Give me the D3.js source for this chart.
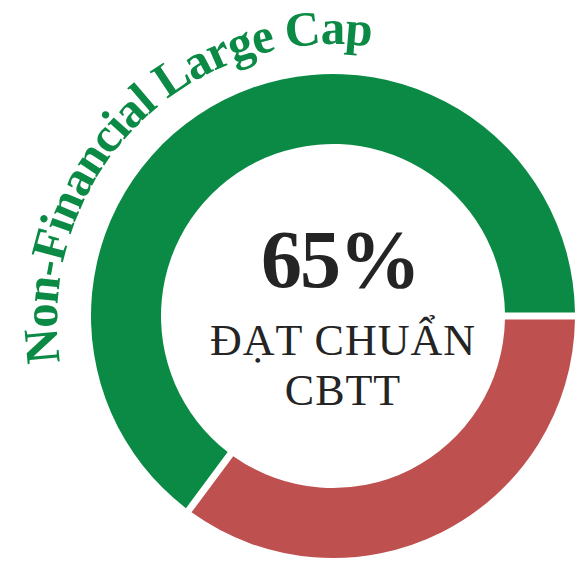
<!DOCTYPE html>
<html>
<head>
<meta charset="utf-8">
<script src="https://cdn.jsdelivr.net/npm/d3@7"></script>
<style>
  html, body { margin: 0; padding: 0; background: #ffffff; }
  svg { display: block; }
</style>
</head>
<body>
<div id="chart"></div>
<script>
// Share of non-financial large caps meeting the disclosure standard
const categories = ["Đạt chuẩn", "Chưa đạt chuẩn"];
const values = [65, 35];
const title = "Non-Financial Large Cap";
const centerLines = ["ĐẠT CHUẨN", "CBTT"];

const width = 579, height = 562;
const cx = 333, cy = 316;
const outerR = 242, innerR = 172;
const titleR = 276, titleDy = 4;
const green = "#0a8a44";
const red = "#be504f";
const ink = "#242424";

const color = d3.scaleOrdinal().domain(categories).range([green, red]);

const svg = d3.select("#chart").append("svg")
  .attr("width", width)
  .attr("height", height);

const g = svg.append("g").attr("transform", `translate(${cx},${cy})`);

// Ring: starts at 3 o'clock and runs counter-clockwise
const pie = d3.pie()
  .sort(null)
  .value(d => d)
  .startAngle(Math.PI / 2)
  .endAngle(Math.PI / 2 - 2 * Math.PI)
  .padAngle(7 / 200);

const arc = d3.arc()
  .innerRadius(innerR)
  .outerRadius(outerR)
  .padRadius(200);

g.selectAll("path.slice")
  .data(pie(values))
  .join("path")
  .attr("class", "slice")
  .attr("d", arc)
  .attr("fill", (d, i) => color(categories[i]));

// Centre label
g.append("text")
  .attr("x", 7)
  .attr("y", -29)
  .attr("text-anchor", "middle")
  .attr("font-family", "'Liberation Serif', 'Times New Roman', serif")
  .attr("font-weight", "bold")
  .attr("font-size", 82)
  .attr("letter-spacing", -2)
  .attr("fill", ink)
  .text(values[0] + "%");

g.selectAll("text.sub")
  .data(centerLines)
  .join("text")
  .attr("class", "sub")
  .attr("x", 10)
  .attr("y", (d, i) => 39 + i * 50)
  .attr("text-anchor", "middle")
  .attr("font-family", "'Liberation Serif', 'Times New Roman', serif")
  .attr("font-size", 44)
  .attr("letter-spacing", 1)
  .attr("fill", ink)
  .text(d => d);

// Curved title along a clockwise arc around the ring
const toCanvas = a => a - Math.PI / 2;
const mid = -45.5 * Math.PI / 180;
const span = 110 * Math.PI / 180;
const p = d3.path();
const a0 = toCanvas(mid - span), a1 = toCanvas(mid + span);
p.moveTo(titleR * Math.cos(a0), titleDy + titleR * Math.sin(a0));
p.arc(0, titleDy, titleR, a0, a1, false);

g.append("path")
  .attr("id", "titlePath")
  .attr("d", p.toString())
  .attr("fill", "none");

g.append("text")
  .attr("font-family", "'Liberation Serif', 'Times New Roman', serif")
  .attr("font-weight", "bold")
  .attr("font-size", 49)
  .attr("letter-spacing", -1)
  .attr("fill", green)
  .append("textPath")
  .attr("href", "#titlePath")
  .attr("startOffset", "50%")
  .attr("text-anchor", "middle")
  .text(title);
</script>
</body>
</html>
